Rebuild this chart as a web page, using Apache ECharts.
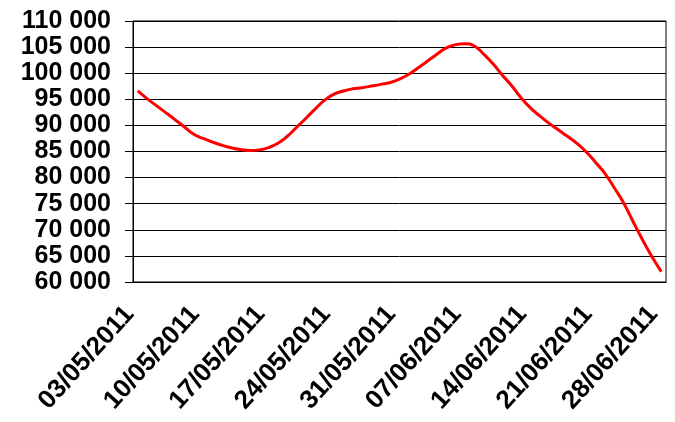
<!DOCTYPE html>
<html>
<head>
<meta charset="utf-8">
<script src="https://cdn.jsdelivr.net/npm/echarts@6/dist/echarts.min.js"></script>
<style>
html,body{margin:0;padding:0;background:#fff;}
#chart{width:675px;height:422px;}
</style>
</head>
<body>
<div id="chart"></div>
<script>
var dates = [
'03/05/2011','04/05/2011','05/05/2011','06/05/2011','07/05/2011','08/05/2011','09/05/2011',
'10/05/2011','11/05/2011','12/05/2011','13/05/2011','14/05/2011','15/05/2011','16/05/2011',
'17/05/2011','18/05/2011','19/05/2011','20/05/2011','21/05/2011','22/05/2011','23/05/2011',
'24/05/2011','25/05/2011','26/05/2011','27/05/2011','28/05/2011','29/05/2011','30/05/2011',
'31/05/2011','01/06/2011','02/06/2011','03/06/2011','04/06/2011','05/06/2011','06/06/2011',
'07/06/2011','08/06/2011','09/06/2011','10/06/2011','11/06/2011','12/06/2011','13/06/2011',
'14/06/2011','15/06/2011','16/06/2011','17/06/2011','18/06/2011','19/06/2011','20/06/2011',
'21/06/2011','22/06/2011','23/06/2011','24/06/2011','25/06/2011','26/06/2011','27/06/2011',
'28/06/2011'
];
var values = [
96600, 95140, 93790, 92450, 91090, 89700, 88300,
87500, 86810, 86200, 85710, 85370, 85200, 85310,
85750, 86580, 87920, 89640, 91380, 93170, 94840,
95980, 96600, 97010, 97230, 97530, 97860, 98220,
98850, 99810, 101040, 102330, 103650, 104830, 105470,
105640, 105210, 103650, 101790, 99620, 97600, 95280,
93350, 91810, 90380, 89120, 87860, 86520, 84870,
82860, 80720, 77970, 75050, 71500, 68060, 64840,
62000
];
var yMin = 60000, yMax = 110000, yStep = 5000;

var chart = echarts.init(document.getElementById('chart'), null, {renderer: 'canvas'});
var font = '"Liberation Sans", Arial, sans-serif';
chart.setOption({
  backgroundColor: '#ffffff',
  animation: false,
  grid: {left: 133, right: 9, top: 21, bottom: 140, show: true, borderColor: '#000', borderWidth: 1, containLabel: false},
  xAxis: {
    type: 'category',
    data: dates,
    boundaryGap: true,
    axisLine: {show: true, lineStyle: {color: '#000', width: 1}},
    axisTick: {show: false},
    splitLine: {show: false},
    axisLabel: {
      interval: 6, rotate: 48, margin: 19, padding: [0, 12, 0, 0],
      color: '#000', fontFamily: font, fontWeight: 'bold', fontSize: 26
    }
  },
  yAxis: {
    type: 'value',
    min: yMin, max: yMax, interval: yStep,
    axisLine: {show: true, lineStyle: {color: '#000', width: 1}},
    axisTick: {show: true, length: 8, lineStyle: {color: '#000'}},
    splitLine: {show: true, lineStyle: {color: '#000', width: 1}},
    axisLabel: {
      margin: 22, color: '#000', fontFamily: font, fontWeight: 'bold', fontSize: 25,
      formatter: function (v) { return String(v).replace(/\B(?=(\d{3})+(?!\d))/g, ' '); }
    }
  },
  series: [{
    type: 'line',
    data: values,
    smooth: true,
    showSymbol: false,
    lineStyle: {color: '#ff0000', width: 3},
    itemStyle: {color: '#ff0000'}
  }]
});
</script>
</body>
</html>
